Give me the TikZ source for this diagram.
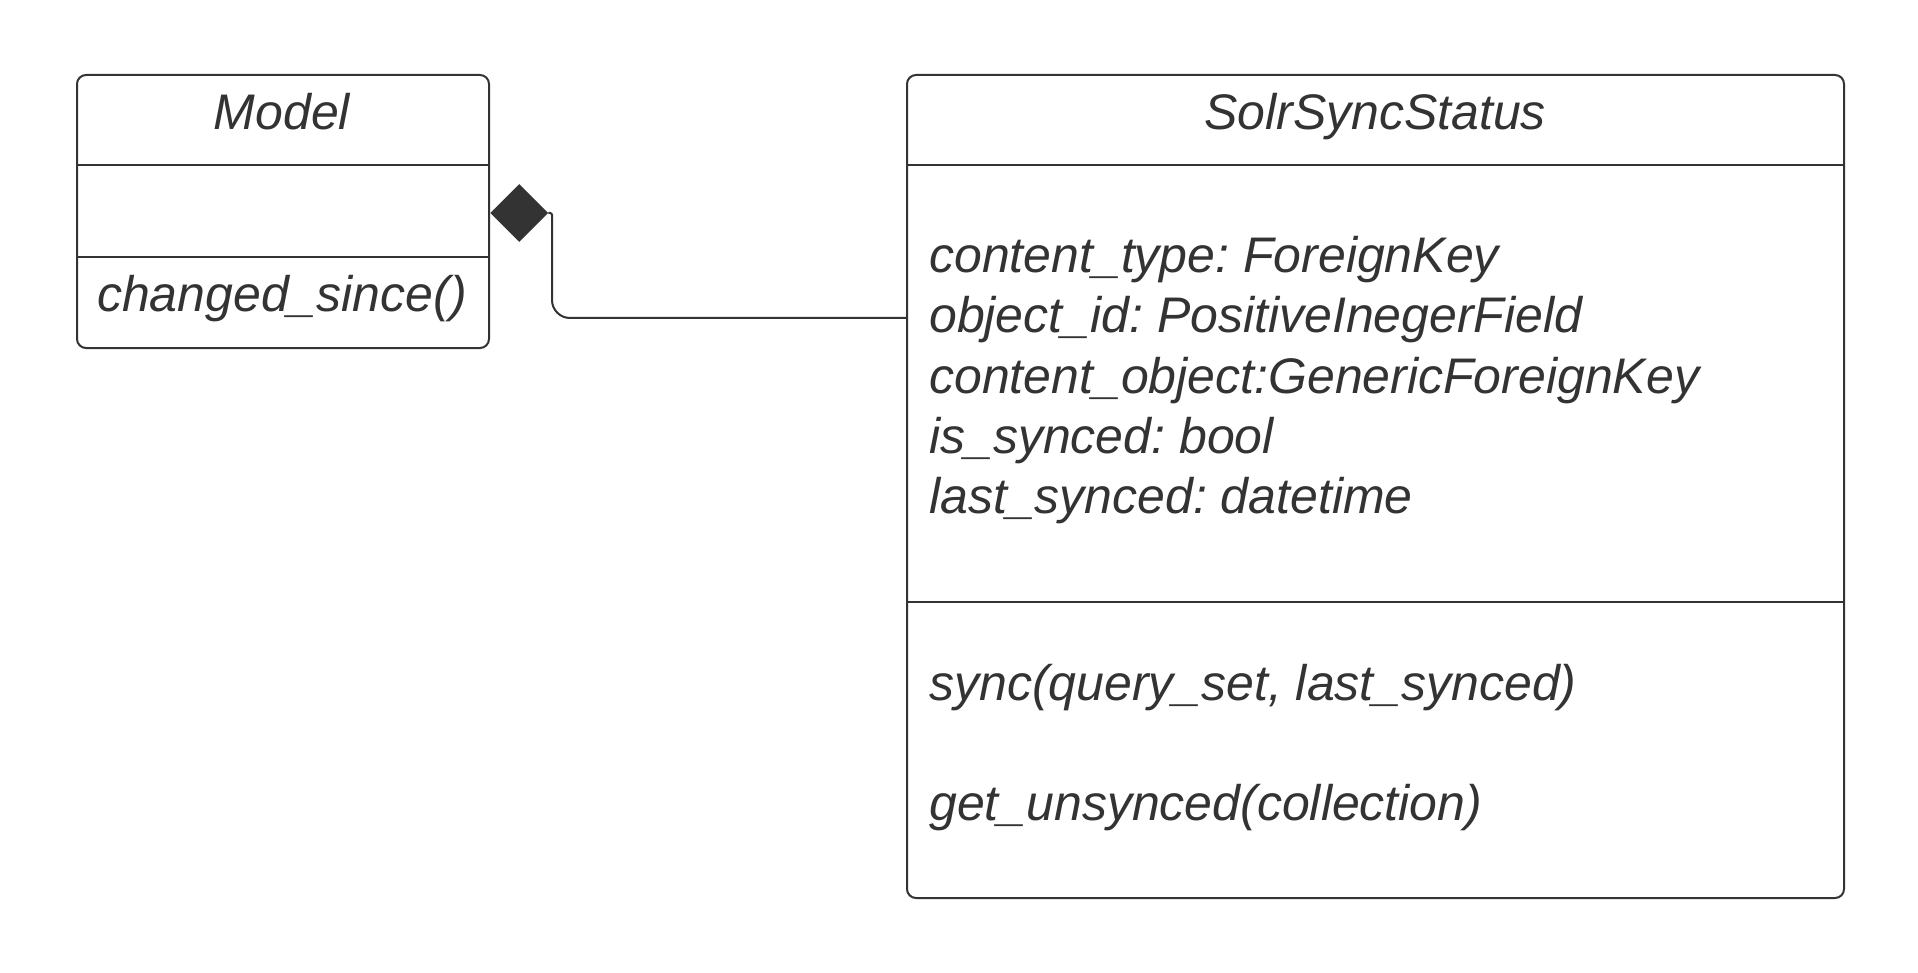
\documentclass[tikz,border=0pt]{standalone}
\usepackage{fontspec}
\setmainfont{Liberation Sans}
\usetikzlibrary{shapes.geometric}
\definecolor{ink}{HTML}{333333}
\frenchspacing
\begin{document}
\begin{tikzpicture}[x=1pt,y=-1pt,
  classbox/.style={draw=ink, line width=2pt, rounded corners=9pt, fill=white, inner sep=0pt, anchor=north west},
  divider/.style={draw=ink, line width=2pt},
  uml/.style={font=\fontsize{50}{60}\selectfont\frenchspacing\itshape, text=ink, inner sep=0pt},
  conn/.style={draw=ink, line width=2pt}]
\fill[white] (0,0) rectangle (1918,973);
\useasboundingbox (0,0) rectangle (1918,973);
% class boxes
\node[classbox, minimum width=412pt, minimum height=273pt] (model) at (76,74) {};
\node[classbox, minimum width=937pt, minimum height=823pt] (solr) at (906,74) {};
% dividers
\draw[divider] ([yshift=-91pt]model.north west) -- ([yshift=-91pt]model.north east);
\draw[divider] ([yshift=-183pt]model.north west) -- ([yshift=-183pt]model.north east);
\draw[divider] ([yshift=-91pt]solr.north west) -- ([yshift=-91pt]solr.north east);
\draw[divider] ([yshift=-528pt]solr.north west) -- ([yshift=-528pt]solr.north east);
% texts
\node[uml, anchor=base] (modelT) at (282,130) {Model};
\node[uml, anchor=base] (modelM) at (282,312) {changed\_since()};
\node[uml, anchor=base] (solrT) at (1375,130) {SolrSyncStatus};
\node[uml, anchor=base west] (a1) at (929,273) {content\_type: ForeignKey};
\node[uml, anchor=base west] (a2) at (929,333) {object\_id: PositiveInegerField};
\node[uml, anchor=base west] (a3) at (929,393) {content\_object:GenericForeignKey};
\node[uml, anchor=base west] (a4) at (929,453) {is\_synced: bool};
\node[uml, anchor=base west] (a5) at (929,513) {last\_synced: datetime};
\node[uml, anchor=base west] (m1) at (929,700) {sync(query\_set, last\_synced)};
\node[uml, anchor=base west] (m2) at (929,820) {get\_unsynced(collection)};
% composition
\node[diamond, fill=ink, draw=none, minimum width=58pt, minimum height=58pt, inner sep=0pt, anchor=west] (dia) at ([yshift=-1.5pt]model.east) {};
\coordinate (elbow) at (552,318);
\draw[conn, rounded corners=2pt] (dia.east) -- (dia.east -| elbow) [rounded corners=18pt] -- (elbow) -- (solr.west |- elbow);
\end{tikzpicture}
\end{document}
